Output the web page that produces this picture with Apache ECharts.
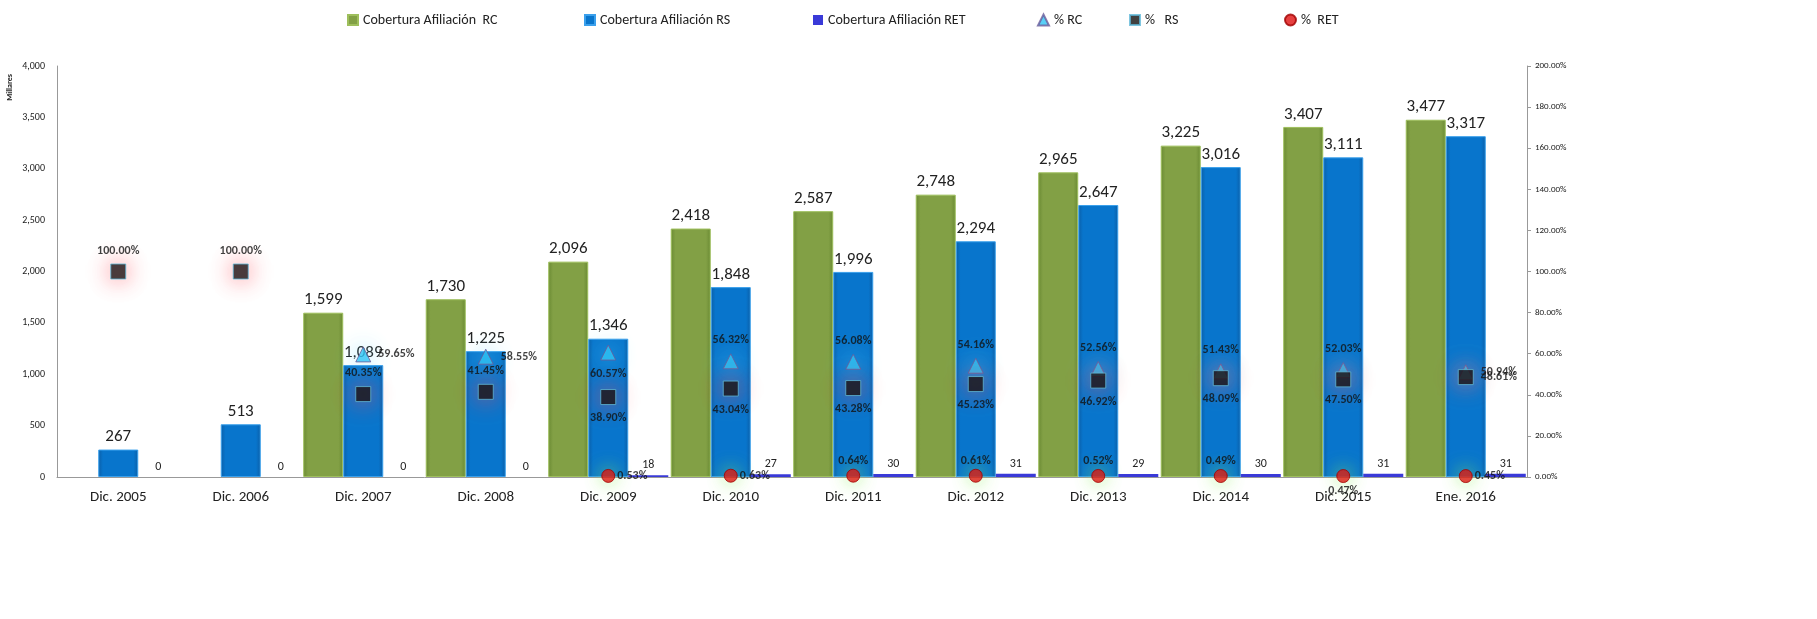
<!DOCTYPE html>
<html>
<head>
<meta charset="utf-8">
<script src="https://cdn.jsdelivr.net/npm/echarts@6/dist/echarts.min.js"></script>
<style>
html,body{margin:0;padding:0;background:#fff;}
#chart{width:1817px;height:619px;}
</style>
</head>
<body>
<div id="chart"></div>
<script>
// ---- data ----
var categories = ['Dic. 2005','Dic. 2006','Dic. 2007','Dic. 2008','Dic. 2009','Dic. 2010','Dic. 2011','Dic. 2012','Dic. 2013','Dic. 2014','Dic. 2015','Ene. 2016'];
var coberturaRC  = [null, null, 1599, 1730, 2096, 2418, 2587, 2748, 2965, 3225, 3407, 3477];
var coberturaRS  = [267, 513, 1089, 1225, 1346, 1848, 1996, 2294, 2647, 3016, 3111, 3317];
var coberturaRET = [0, 0, 0, 0, 18, 27, 30, 31, 29, 30, 31, 31];
var pctRC  = [null, null, 59.65, 58.55, 60.57, 56.32, 56.08, 54.16, 52.56, 51.43, 52.03, 50.94];
var pctRS  = [100, 100, 40.35, 41.45, 38.90, 43.04, 43.28, 45.23, 46.92, 48.09, 47.50, 48.61];
var pctRET = [null, null, null, null, 0.53, 0.63, 0.64, 0.61, 0.52, 0.49, 0.47, 0.45];
var leftTicks = {min: 0, max: 4000, interval: 500};
var rightTicks = {min: 0, max: 200, interval: 20};

// ---- label placement (style only) ----
var posRC  = ['top','top','right','right','bottom','top','top','top','top','top','top','right'];
var posRS  = ['top','top','top','top','bottom','bottom','bottom','bottom','bottom','bottom','bottom','right'];
var posRET = ['right','right','right','right','right','right','top','top','top','top','bottom','right'];

function withPos(arr, pos){ return arr.map(function(v,i){ return {value:v, label:{position:pos[i]}}; }); }
function fmtPct(p){ return p.value == null ? '' : Number(p.value).toFixed(2) + '%'; }
function fmtNum(v){ return Number(v).toLocaleString('en-US'); }

var FONT = 'Carlito, Lato, "Open Sans", sans-serif';

function hGrad(edge, mid){
  return new echarts.graphic.LinearGradient(0,0,1,0,[
    {offset:0,color:edge},{offset:0.12,color:mid},{offset:0.88,color:mid},{offset:1,color:edge}]);
}

var chart = echarts.init(document.getElementById('chart'));
var pctLabel = {show:true, fontSize:12, fontWeight:'bold', color:'#111', fontFamily:FONT, distance:7, formatter:fmtPct};
var retLabel = {show:true, fontSize:12, fontWeight:'bold', color:'#111', fontFamily:FONT, distance:2, formatter:fmtPct};

chart.setOption({
  animation:false,
  textStyle:{fontFamily:FONT},
  legend:[
    {left:342, top:8, data:['Cobertura Afiliación  RC'], icon:'rect', itemWidth:10, itemHeight:10, itemGap:4, textStyle:{fontSize:14, color:'#222'}},
    {left:579, top:8, data:['Cobertura Afiliación RS'], icon:'rect', itemWidth:10, itemHeight:10, textStyle:{fontSize:14, color:'#222'}},
    {left:808, top:8, data:['Cobertura Afiliación RET'], icon:'rect', itemWidth:10, itemHeight:10, textStyle:{fontSize:14, color:'#222'}},
    {left:1032, top:8, data:['% RC'], icon:'triangle', itemWidth:11, itemHeight:11, textStyle:{fontSize:14, color:'#222'}},
    {left:1124, top:8, data:['%   RS'], icon:'rect', itemWidth:10, itemHeight:10, textStyle:{fontSize:14, color:'#222'}},
    {left:1279, top:8, data:['%  RET'], icon:'circle', itemWidth:11, itemHeight:11, textStyle:{fontSize:14, color:'#222'}}
  ],
  graphic:[{type:'text', left:6, top:74, rotation:Math.PI/2, style:{text:'Millares', font:'bold 8px ' + FONT, fill:'#222'}}],
  grid:{left:57, right:290, top:66, bottom:142},
  xAxis:{
    type:'category', data:categories,
    axisLine:{lineStyle:{color:'#999'}}, axisTick:{show:false},
    axisLabel:{fontSize:15, color:'#222', margin:13}
  },
  yAxis:[
    {type:'value', min:leftTicks.min, max:leftTicks.max, interval:leftTicks.interval,
     axisLine:{show:true, lineStyle:{color:'#999'}}, axisTick:{show:false}, splitLine:{show:false},
     axisLabel:{fontSize:10, color:'#222', margin:12, formatter:fmtNum}},
    {type:'value', min:rightTicks.min, max:rightTicks.max, interval:rightTicks.interval, position:'right',
     axisLine:{show:true, lineStyle:{color:'#999'}}, axisTick:{show:true, length:4, lineStyle:{color:'#999'}}, splitLine:{show:false},
     axisLabel:{fontSize:9, color:'#222', margin:8, formatter:function(v){return v.toFixed(2)+'%';}}}
  ],
  series:[
    {name:'Cobertura Afiliación  RC', type:'bar', data:coberturaRC, barGap:'0%', barCategoryGap:'2%',
     itemStyle:{color:hGrad('#6a8a33','#82a045'), borderColor:'#9ebf5c', borderWidth:1},
     label:{show:true, position:'top', fontSize:17, color:'#222', distance:4, formatter:function(p){return p.value==null?'':fmtNum(p.value);}}},
    {name:'Cobertura Afiliación RS', type:'bar', data:coberturaRS,
     itemStyle:{color:hGrad('#0b5fa8','#0875cc'), borderColor:'#3aa0ec', borderWidth:1},
     label:{show:true, position:'top', fontSize:17, color:'#222', distance:4, formatter:function(p){return fmtNum(p.value);}}},
    {name:'Cobertura Afiliación RET', type:'bar', data:coberturaRET,
     itemStyle:{color:'#3a3ad8'},
     label:{show:true, position:'top', fontSize:12, color:'#222', distance:4}},
    {name:'% RC', type:'scatter', yAxisIndex:1, symbol:'triangle', symbolSize:15, z:5,
     data:withPos(pctRC, posRC),
     itemStyle:{color:'#2ec4f5', borderColor:'#6a5a9a', borderWidth:1, shadowBlur:22, shadowColor:'rgba(90,215,255,1)'},
     label:pctLabel},
    {name:'%   RS', type:'scatter', yAxisIndex:1, symbol:'rect', symbolSize:15, z:6,
     data:withPos(pctRS, posRS),
     itemStyle:{color:'#111', borderColor:'#5fb8d8', borderWidth:1, shadowBlur:22, shadowColor:'rgba(255,70,80,0.9)'},
     label:pctLabel},
    {name:'%  RET', type:'scatter', yAxisIndex:1, symbol:'circle', symbolSize:13, z:5,
     data:withPos(pctRET, posRET),
     itemStyle:{color:'#e01010', borderColor:'#a00000', borderWidth:1, shadowBlur:18, shadowColor:'rgba(140,240,90,1)'},
     label:retLabel}
  ]
});
</script>
</body>
</html>
